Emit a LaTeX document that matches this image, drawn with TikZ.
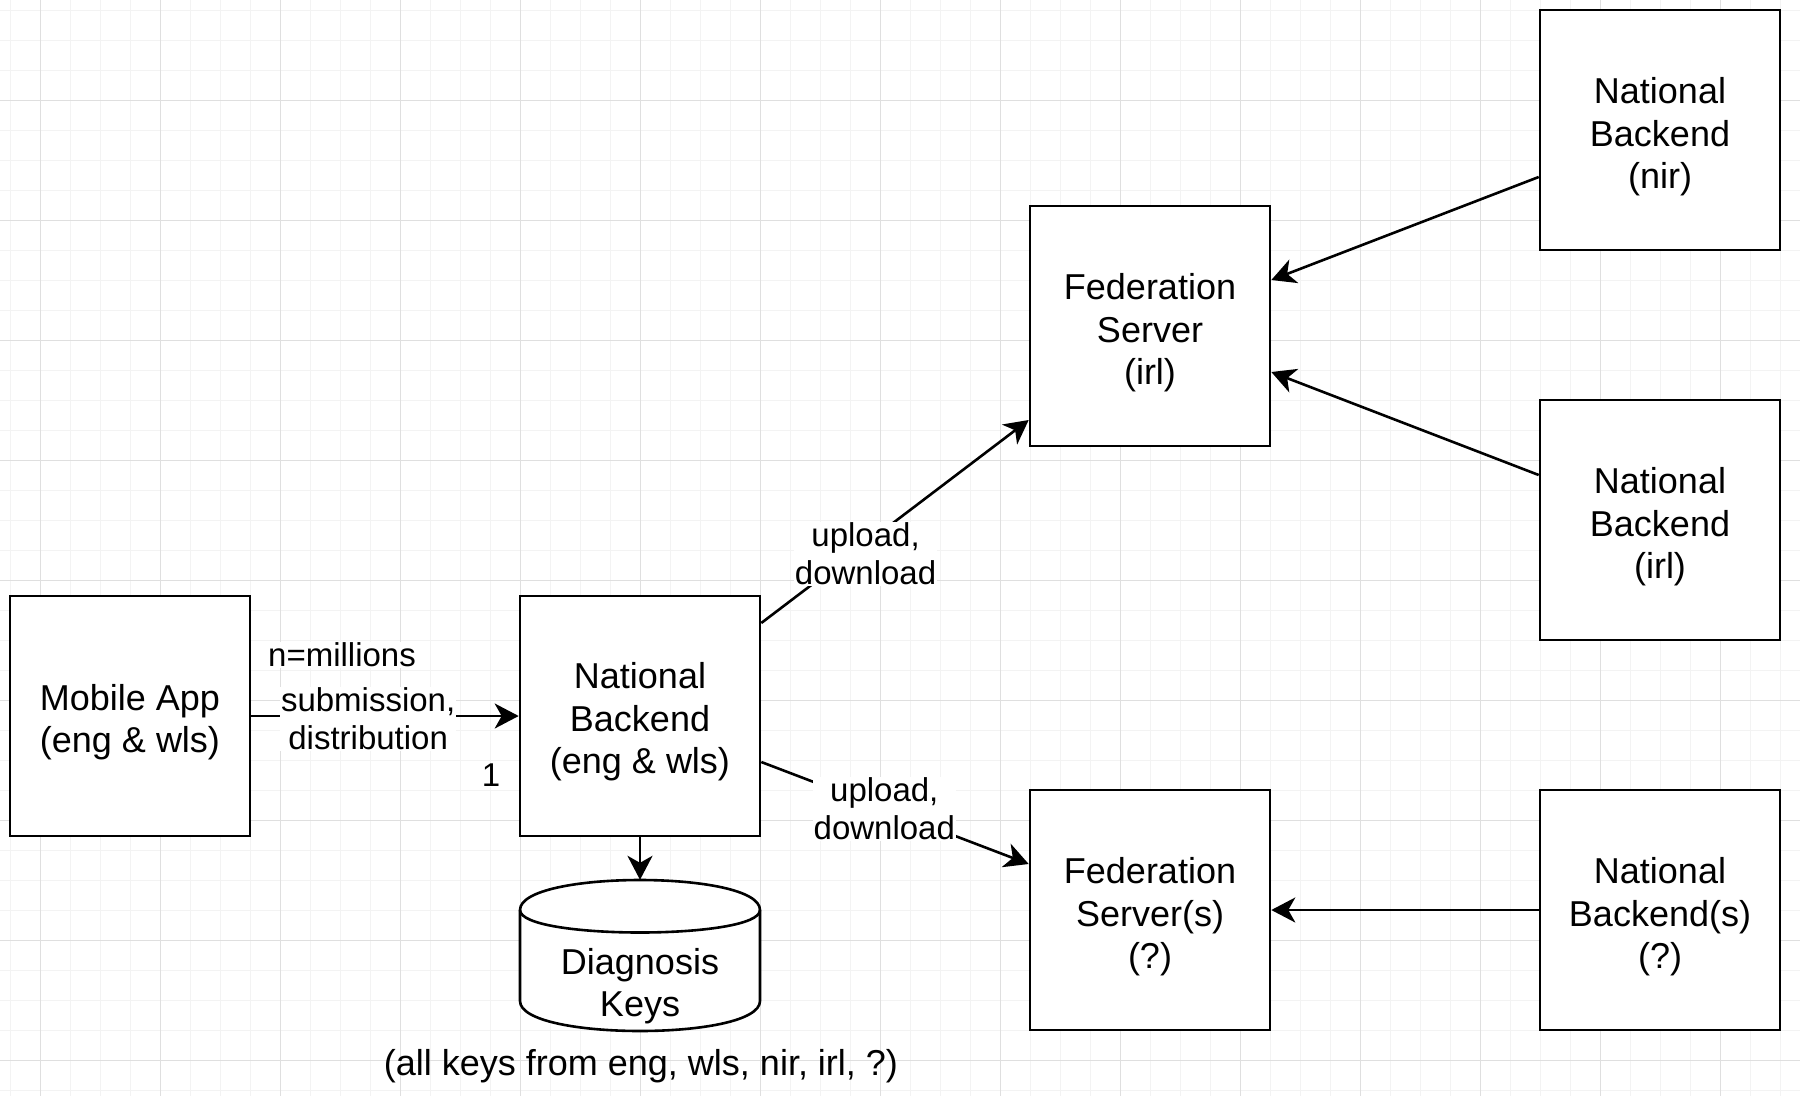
\documentclass[tikz,border=0pt]{standalone}
\usepackage{fontspec}
\setmainfont{Liberation Sans}
\usetikzlibrary{arrows.meta}
\definecolor{gridminor}{RGB}{243,243,243}
\definecolor{gridmajor}{RGB}{223,223,223}
\begin{document}
\begin{tikzpicture}[x=1pt,y=-1pt,
  box/.style={draw=black, line width=2.6pt, fill=white, minimum width=240pt, minimum height=240pt, inner sep=0pt},
  boxtext/.style={inner sep=0pt, align=center, font=\fontsize{36}{42.5}\selectfont},
  lbl/.style={fill=white, inner sep=1pt, align=center, font=\fontsize{33}{38}\selectfont},
  conn/.style={line width=2.6pt, -{Stealth[length=24pt,width=25pt,inset=7pt]}},
  minorline/.style={draw=gridminor, line width=1pt},
  majorline/.style={draw=gridmajor, line width=1pt},
]
\useasboundingbox (0,0) rectangle (1800,1096);
\fill[white] (0,0) rectangle (1800,1096);
\foreach \x in {10,40,...,1790} \draw[minorline] (\x,0) -- (\x,1096);
\foreach \y in {10,40,...,1090} \draw[minorline] (0,\y) -- (1800,\y);
\foreach \x in {40,160,...,1720} \draw[majorline] (\x,0) -- (\x,1096);
\foreach \y in {100,220,...,1060} \draw[majorline] (0,\y) -- (1800,\y);

\node[box] (ma) at (130,716) {};
\node[boxtext] (mat) at ([yshift=-6pt]ma.center) {Mobile App\\(eng \& wls)};
\node[box] (nb) at (640,716) {};
\node[boxtext] (nbt) at ([yshift=-6pt]nb.center) {National\\Backend\\(eng \& wls)};
\node[box] (fs1) at (1150,326) {};
\node[boxtext] (fs1t) at ([yshift=-7pt]fs1.center) {Federation\\Server\\(irl)};
\node[box] (fs2) at (1150,910) {};
\node[boxtext] (fs2t) at ([yshift=-7pt]fs2.center) {Federation\\Server(s)\\(?)};
\node[box] (nir) at (1660,130) {};
\node[boxtext] (nirt) at ([yshift=-7pt]nir.center) {National\\Backend\\(nir)};
\node[box] (irl) at (1660,520) {};
\node[boxtext] (irlt) at ([yshift=-7pt]irl.center) {National\\Backend\\(irl)};
\node[box] (nbq) at (1660,910) {};
\node[boxtext] (nbqt) at ([yshift=-7pt]nbq.center) {National\\Backend(s)\\(?)};

% cylinder
\node[minimum width=240pt, minimum height=151pt, inner sep=0pt] (db) at (640,955.5) {};
\draw[line width=2.6pt, fill=white] (520,910) .. controls (520,870) and (760,870) .. (760,910)
  -- (760,1001) .. controls (760,1041) and (520,1041) .. (520,1001) -- cycle;
\draw[line width=2.6pt] (520,910) .. controls (520,940) and (760,940) .. (760,910);
\node[boxtext] (dbt) at (640,986) {Diagnosis\\Keys};
\node[font=\fontsize{36}{42.5}\selectfont] (cap) at (641,1066) {(all keys from eng, wls, nir, irl, ?)};

\draw[conn] (ma.east) -- node[lbl, pos=0.437, yshift=-3pt] (l1) {submission,\\distribution} (nb.west);
\node[lbl] (nm) at (342,655) {n=millions};
\node[lbl] (one) at (491,775) {1};
\draw[conn] (nb.south) -- (db.north);
\draw[conn] ([yshift=93pt]nb.east) -- node[lbl, pos=0.39, yshift=-10pt] (l2) {upload,\\download} ([yshift=-94pt]fs1.west);
\draw[conn] ([yshift=-46pt]nb.east) -- node[lbl, pos=0.46] (l3) {upload,\\download} ([yshift=46pt]fs2.west);
\draw[conn] ([yshift=-47pt]nir.west) -- ([yshift=46pt]fs1.east);
\draw[conn] ([yshift=45pt]irl.west) -- ([yshift=-46pt]fs1.east);
\draw[conn] (nbq.west) -- (fs2.east);
\end{tikzpicture}
\end{document}
